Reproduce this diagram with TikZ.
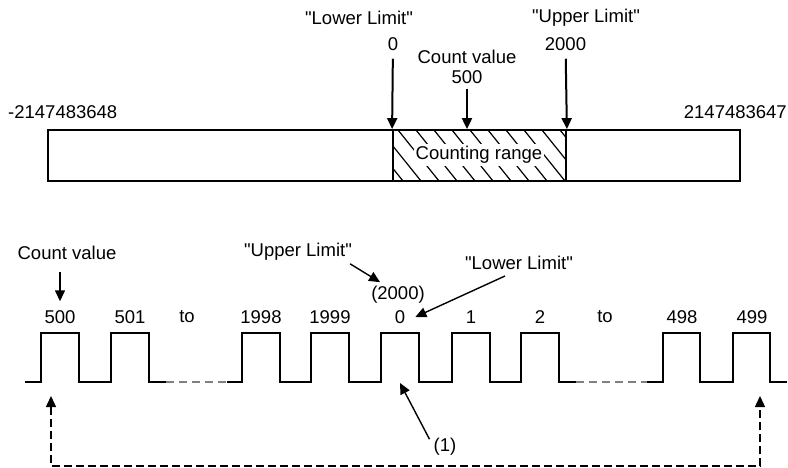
\documentclass[tikz,border=0pt]{standalone}
\usepackage{fontspec}
\setmainfont{Liberation Sans}
\usetikzlibrary{arrows.meta,positioning,calc}
\tikzset{
  % plain text labels, one pixel of the drawing is one point
  lbl/.style  = {font=\fontsize{18.5}{20}\selectfont, inner sep=0pt, align=center},
  pin/.style  = {-{Triangle[length=11pt,width=10pt]}, line width=2pt},
  ptr/.style  = {-{Triangle[length=11pt,width=10pt]}, line width=1.4pt},
  wave/.style = {line width=1.6pt, line join=miter},
  gap/.style  = {line width=1.4pt, gray, dash pattern=on 8pt off 5pt},
  back/.style = {{Triangle[length=11pt,width=10pt]}-{Triangle[length=11pt,width=10pt]},
                 line width=1.4pt, dash pattern=on 8pt off 4pt},
  bar/.style  = {draw, line width=1.8pt, inner sep=0pt, minimum height=51pt},
}
\newcommand{\qt}[1]{\textquotedbl#1\textquotedbl}

\begin{document}
\begin{tikzpicture}[x=1pt,y=-1pt]
\useasboundingbox (0,0) rectangle (788,468);

% --- value range bar ----------------------------------------------------
\node[bar, minimum width=692pt] (bar) at (394,155.5) {};
\node[bar, minimum width=173pt] (rng) at (479.5,155.5) {};
\begin{scope}
  \clip (rng.south west) rectangle (rng.north east);
  \foreach \i in {-3,...,10} {\draw[line width=1.2pt] (398+18*\i,130) -- ++(41,51);}
\end{scope}
\node[lbl, fill=white, inner sep=2pt] (cr) at (479,155) {Counting range};
\node[bar, minimum width=173pt] at (rng) {};

% --- limits of the bar --------------------------------------------------
\node[lbl, anchor=west] (minv) at (8,112) {-2147483648};
\node[lbl, anchor=east] (maxv) at (787,112) {2147483647};

\node[lbl] (lo)  at (359,18)   {\qt{Lower Limit}};
\node[lbl] (lov) at (393,44)   {0};
\node[lbl] (up)  at (586,18)   {\qt{Upper Limit}};
\node[lbl] (upv) at (565.5,44) {2000};
\node[lbl] (cv)  at (467,67)   {Count value\\500};

\draw[pin, shorten <=8pt] (lov) -- (rng.north west);
\draw[pin, shorten <=8pt] (upv) -- (rng.north east);
\draw[pin, shorten <=5pt] (cv.south) -- (cv.south |- rng.north);

% --- pulse train --------------------------------------------------------
\draw[wave] (25,382) foreach \x in {41,111} {-- (\x,382) -- (\x,333) -- (\x+38,333) -- (\x+38,382)} -- (166,382);
\draw[wave] (227,382) foreach \x in {242,311,381,452,521} {-- (\x,382) -- (\x,333) -- (\x+38,333) -- (\x+38,382)} -- (576,382);
\draw[wave] (647,382) foreach \x in {663,733} {-- (\x,382) -- (\x,333) -- (\x+37,333) -- (\x+37,382)} -- (787,382);
\draw[gap] (166,382) -- (227,382);
\draw[gap] (576,382) -- (647,382);

\foreach \x/\t in {41/500, 111/501, 242/1998, 311/1999, 381/0, 452/1, 521/2, 663/498, 733/499}
  {\node[lbl] (v\t) at (\x+19,317) {\t};}
\node[lbl] (to1) at (187,317) {to};
\node[lbl] (to2) at (605,317) {to};

% --- notes on the pulses --------------------------------------------------
\node[lbl] (cvb)   at (67,253)  {Count value};
\node[lbl] (ulb)   at (298,252) {\qt{Upper Limit}};
\node[lbl] (v2000) at (398,295) {(2000)};
\node[lbl] (llb)   at (519,263) {\qt{Lower Limit}};
\node[lbl] (one)   at (445,447) {(1)};

\draw[pin, line width=1.6pt, shorten <=12pt, shorten >=9pt] (v500 |- cvb.south) -- (v500.north);
\draw[ptr] ([xshift=-2pt,yshift=-3pt]ulb.south east) -- ([xshift=9pt,yshift=4pt]v2000.north west);
\draw[ptr] ([xshift=-14pt,yshift=-6pt]llb.south) -- ([xshift=10pt]v0.east);
\draw[ptr] ([xshift=-4pt,yshift=-1pt]one.north west) -- ($(v0)+(0,66)$);

% --- wrap around ----------------------------------------------------------
\draw[back] ($(v500)+(-9,79)$) -- ++(0,70) -| ($(v499)+(8,79)$);
\end{tikzpicture}
\end{document}
